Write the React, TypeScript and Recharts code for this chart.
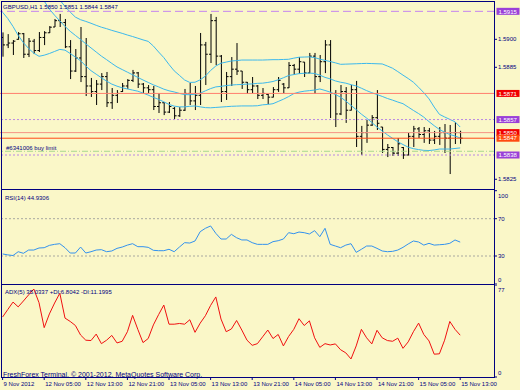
import React from "react";
import { ComposedChart, Bar, Line, XAxis, YAxis, ReferenceLine } from "recharts";

const FONT = "'Liberation Sans', Arial, sans-serif";
const NAVY = "#000080";
const BG = "#faf7c8";
const PAD_RIGHT = 32.2;

// GBPUSD H1, 9 Nov 21:00 .. 15 Nov 13:00
const opens = [
  1.5901, 1.5897, 1.5898, 1.59, 1.5903, 1.5892, 1.5899, 1.5894, 1.5901, 1.59035,
  1.59066, 1.591, 1.5909, 1.5896, 1.5883, 1.589, 1.588, 1.5875, 1.5872, 1.5876,
  1.588, 1.5866, 1.587, 1.5872, 1.5875, 1.5878, 1.5882, 1.5876, 1.5874, 1.5873,
  1.5864, 1.5866, 1.5861, 1.5863, 1.5859, 1.5862, 1.5871, 1.5867, 1.587, 1.5897,
  1.5892, 1.591, 1.5891, 1.5872, 1.588, 1.5884, 1.5883, 1.5877, 1.5873, 1.5875,
  1.587, 1.58705, 1.5869, 1.5873, 1.5876, 1.5874, 1.5886, 1.5884, 1.58878, 1.5882,
  1.5891, 1.588, 1.5888, 1.5897, 1.5871, 1.586, 1.5872, 1.5862, 1.5873, 1.5848,
  1.585, 1.5854, 1.5858, 1.5853, 1.5841, 1.5842, 1.5839, 1.5842, 1.5838, 1.5848,
  1.5852, 1.5849, 1.5851, 1.5846, 1.5848, 1.585, 1.5847, 1.585, 1.585,
];
const highs = [
  1.59037, 1.59028, 1.58996, 1.59039, 1.59034, 1.59007, 1.59002, 1.59039, 1.59044, 1.59071,
  1.59109, 1.59136, 1.59109, 1.58996, 1.58948, 1.59066, 1.59007, 1.58793, 1.58782, 1.58819,
  1.58825, 1.58739, 1.58728, 1.58766, 1.58787, 1.58836, 1.58825, 1.58766, 1.58755, 1.5875,
  1.58712, 1.58664, 1.58664, 1.58637, 1.58637, 1.58734, 1.58766, 1.5875, 1.59034, 1.58986,
  1.59136, 1.5912, 1.58916, 1.58825, 1.58905, 1.5898, 1.5883, 1.58771, 1.58798, 1.58755,
  1.58739, 1.58707, 1.58744, 1.58798, 1.58766, 1.58878, 1.58868, 1.58905, 1.58878, 1.58927,
  1.58927, 1.58916, 1.58996, 1.58996, 1.58728, 1.58755, 1.58744, 1.58755, 1.58777, 1.58536,
  1.58568, 1.58594, 1.58728, 1.5853, 1.58439, 1.58423, 1.58471, 1.58423, 1.58498, 1.58536,
  1.5853, 1.5853, 1.58525, 1.58509, 1.5853, 1.58546, 1.58541, 1.58557, 1.5851,
];
const lows = [
  1.58907, 1.58953, 1.58916, 1.58998, 1.589, 1.58905, 1.58921, 1.58932, 1.58969, 1.59034,
  1.59066, 1.59066, 1.58953, 1.58787, 1.58825, 1.58771, 1.58696, 1.58691, 1.58648, 1.58728,
  1.58637, 1.58627, 1.58659, 1.58718, 1.58734, 1.58771, 1.58739, 1.58712, 1.58712, 1.58621,
  1.58605, 1.58594, 1.58605, 1.58573, 1.58584, 1.58616, 1.58648, 1.58621, 1.58648, 1.58755,
  1.58873, 1.58862, 1.58664, 1.58675, 1.5875, 1.58809, 1.58734, 1.58707, 1.58712, 1.5868,
  1.5868, 1.58653, 1.58689, 1.58718, 1.58712, 1.58739, 1.58809, 1.58814, 1.58798, 1.58819,
  1.58707, 1.58771, 1.58819, 1.58578, 1.5853, 1.58594, 1.58552, 1.58619, 1.58423, 1.5838,
  1.58445, 1.58536, 1.58514, 1.58391, 1.58369, 1.58375, 1.58375, 1.58359, 1.58378, 1.58423,
  1.58471, 1.58445, 1.58439, 1.58439, 1.58434, 1.58391, 1.58278, 1.58439, 1.5844,
];
const closes = [
  1.5897, 1.5898, 1.5899, 1.5903, 1.5892, 1.5899, 1.5894, 1.5901, 1.59035, 1.59065,
  1.591, 1.5909, 1.5896, 1.5883, 1.589, 1.588, 1.5875, 1.5872, 1.5876, 1.588,
  1.5866, 1.587, 1.5871, 1.5875, 1.5878, 1.5882, 1.5876, 1.5874, 1.5873, 1.5864,
  1.5866, 1.5861, 1.5864, 1.5859, 1.5862, 1.5871, 1.5867, 1.587, 1.5897, 1.5892,
  1.591, 1.5891, 1.5872, 1.588, 1.5884, 1.5883, 1.5877, 1.5873, 1.5875, 1.587,
  1.5871, 1.5869, 1.5873, 1.5878, 1.5874, 1.5886, 1.5884, 1.5888, 1.5882, 1.5891,
  1.588, 1.5888, 1.5897, 1.5871, 1.586, 1.5872, 1.5862, 1.5873, 1.5848, 1.585,
  1.5854, 1.5858, 1.5855, 1.5841, 1.5842, 1.5839, 1.5844, 1.5838, 1.5848, 1.5852,
  1.5849, 1.5851, 1.5846, 1.5848, 1.585, 1.5847, 1.585, 1.585, 1.5847,
];

// bollinger bands
const bbUpper = [
  1.59671, 1.59628, 1.59585, 1.59543, 1.595, 1.59457, 1.59414, 1.59371, 1.59328, 1.59285,
  1.59248, 1.59211, 1.59176, 1.59146, 1.59119, 1.59105, 1.59096, 1.59086, 1.59075, 1.59065,
  1.59057, 1.59048, 1.5904, 1.59032, 1.59023, 1.59015, 1.59006, 1.58997, 1.58989, 1.58964,
  1.58932, 1.58902, 1.58865, 1.58831, 1.58807, 1.58782, 1.58769, 1.5877, 1.58783, 1.58803,
  1.58833, 1.58857, 1.58872, 1.58878, 1.58884, 1.58886, 1.58889, 1.58889, 1.58889, 1.58889,
  1.58889, 1.5889, 1.58891, 1.58891, 1.58892, 1.58893, 1.58899, 1.58904, 1.58905, 1.58906,
  1.58902, 1.58894, 1.58887, 1.58881, 1.58874, 1.58866, 1.58867, 1.58868, 1.58869, 1.5887,
  1.58871, 1.5887, 1.58869, 1.58868, 1.58857, 1.58845, 1.58827, 1.58808, 1.5879, 1.5877,
  1.58743, 1.58714, 1.58681, 1.58637, 1.58598, 1.58584, 1.58571, 1.58558, 1.5853,
];
const bbMiddle = [
  1.59452, 1.59414, 1.59382, 1.5935, 1.59318, 1.59291, 1.59264, 1.59237, 1.59205, 1.59162,
  1.59129, 1.59099, 1.59069, 1.59043, 1.59021, 1.58999, 1.58976, 1.58954, 1.58932, 1.5891,
  1.58891, 1.58871, 1.58852, 1.58838, 1.58824, 1.5881, 1.58796, 1.58782, 1.58769, 1.58756,
  1.58745, 1.58733, 1.58724, 1.58718, 1.5871, 1.58704, 1.58703, 1.58706, 1.58711, 1.58724,
  1.58736, 1.58745, 1.58748, 1.58752, 1.58755, 1.58757, 1.58758, 1.5876, 1.58761, 1.58764,
  1.58765, 1.58769, 1.58774, 1.58783, 1.58794, 1.58806, 1.58811, 1.58816, 1.58818, 1.58819,
  1.58817, 1.58808, 1.58796, 1.58788, 1.58777, 1.5877, 1.58765, 1.58757, 1.5875, 1.58738,
  1.58725, 1.58714, 1.58704, 1.58694, 1.58683, 1.58674, 1.58664, 1.58655, 1.58637, 1.58619,
  1.58602, 1.58583, 1.58559, 1.58537, 1.58517, 1.58502, 1.5849, 1.58482, 1.58471,
];
const bbLower = [
  1.59145, 1.59111, 1.59069, 1.59021, 1.58982, 1.58951, 1.58926, 1.58909, 1.58915, 1.58924,
  1.58935, 1.58946, 1.58942, 1.58924, 1.58905, 1.58885, 1.58857, 1.58832, 1.58813, 1.58794,
  1.58776, 1.5876, 1.58749, 1.5874, 1.58734, 1.58728, 1.58722, 1.58712, 1.58701, 1.58689,
  1.58678, 1.58665, 1.58651, 1.58642, 1.58638, 1.58638, 1.58641, 1.58643, 1.58638, 1.58634,
  1.58633, 1.58635, 1.58637, 1.58639, 1.58641, 1.58642, 1.58643, 1.58643, 1.58643, 1.58644,
  1.58649, 1.58651, 1.58655, 1.58667, 1.58679, 1.58693, 1.58709, 1.58717, 1.58722, 1.58725,
  1.58728, 1.58734, 1.58726, 1.58717, 1.58704, 1.5869, 1.58669, 1.58646, 1.58623, 1.58599,
  1.58578, 1.58554, 1.5853, 1.58509, 1.58488, 1.58469, 1.58451, 1.58436, 1.58422, 1.58414,
  1.58409, 1.58405, 1.58404, 1.58407, 1.58412, 1.58412, 1.58412, 1.58415, 1.58418,
];

const rsi14 = [
  32.2, 31.2, 30.5, 34.6, 32.9, 36.4, 36.4, 38.6, 38.9, 41.4,
  42.5, 43.2, 38.9, 33.2, 33.2, 39.6, 33.2, 34.6, 36.4, 36.8,
  34.6, 35.4, 38.2, 39.6, 41.7, 43.2, 40.0, 40.0, 39.3, 36.1,
  35.7, 35.7, 37.2, 34.6, 39.6, 44.3, 43.9, 46.1, 56.1, 59.7,
  62.2, 54.3, 48.2, 48.2, 53.2, 49.6, 47.2, 47.2, 44.3, 42.5,
  42.5, 42.5, 45.4, 46.4, 48.2, 55.0, 53.9, 55.7, 55.0, 53.6,
  57.2, 50.7, 59.7, 42.5, 40.7, 38.9, 41.7, 43.2, 33.9, 37.2,
  40.7, 40.7, 38.2, 35.4, 34.6, 35.0, 36.4, 39.3, 42.9, 46.1,
  45.0, 41.7, 43.6, 41.7, 42.1, 42.5, 43.6, 47.2, 44.9,
];
const adx5 = [
  50.2, 56.5, 62.7, 58.7, 63.6, 68.7, 73.6, 62.2, 41.3, 52.8,
  61.9, 70.1, 49.3, 46.5, 43.1, 35.1, 30.8, 30.5, 35.9, 27.9,
  30.8, 34.8, 28.5, 29.9, 37.9, 51.6, 39.9, 28.8, 32.2, 43.6,
  52.2, 60.2, 44.2, 44.2, 44.8, 44.2, 47.9, 37.4, 45.1, 51.3,
  59.9, 67.0, 48.5, 37.9, 40.2, 47.3, 39.3, 30.8, 26.5, 27.9,
  33.6, 39.3, 32.2, 35.6, 26.0, 33.9, 39.9, 48.8, 43.1, 47.0,
  32.8, 24.8, 27.9, 26.8, 27.7, 22.8, 20.2, 15.1, 26.0, 39.9,
  32.8, 27.7, 39.1, 32.8, 30.5, 29.9, 32.5, 24.0, 29.4, 37.9,
  45.1, 35.6, 30.2, 19.1, 19.4, 30.8, 46.5, 39.9, 35.0,
];

// scale labels that are not covered by a price tag
const priceTicks = [1.5825, 1.5885, 1.59];
const timeTicks = [0, 8, 16, 24, 32, 40, 48, 56, 64, 72, 80, 88];
const timeLabels = [
  "9 Nov 2012", "12 Nov 05:00", "12 Nov 13:00", "12 Nov 21:00", "13 Nov 05:00", "13 Nov 13:00",
  "13 Nov 21:00", "14 Nov 05:00", "14 Nov 13:00", "14 Nov 21:00", "15 Nov 05:00", "15 Nov 13:00",
];

// horizontal lines on the price pane
const levels = [
  { y: 1.5915, stroke: "#c484f0", dash: "8 4", tag: "#9a40d8" },
  { y: 1.5871, stroke: "#ff7f6e", dash: undefined, tag: "#f00000" },
  { y: 1.5857, stroke: "#b888e4", dash: "2 2", tag: "#9a40d8" },
  { y: 1.585, stroke: "#f59484", dash: undefined, tag: "#f00000" },
  { y: 1.5847, stroke: "#ff4a18", dash: undefined, tag: "#ff4a10" },
  { y: 1.584, stroke: "#a8d890", dash: "6 2 1 2", tag: null },
  { y: 1.5838, stroke: "#b888e4", dash: "2 2", tag: "#9a40d8" },
];

const rows = opens.map((o, i) => ({
  i,
  open: o,
  high: highs[i],
  low: lows[i],
  close: closes[i],
  range: [lows[i], highs[i]],
  up: bbUpper[i],
  mid: bbMiddle[i],
  lo: bbLower[i],
  rsi: rsi14[i],
  adx: adx5[i],
}));

const axisTick = { fontSize: 6, fill: NAVY, fontFamily: FONT };

function OhlcBar(props: any) {
  const { x, y, width, height, payload } = props;
  const top = Math.min(y, y + height);
  const bot = Math.max(y, y + height);
  const span = payload.high - payload.low || 1;
  const yAt = (v: number) => top + ((payload.high - v) / span) * (bot - top);
  const cx = x + width / 2;
  return (
    <g stroke="#000" strokeWidth={1}>
      <line x1={cx} x2={cx} y1={top} y2={bot} />
      <line x1={cx - 2} x2={cx} y1={yAt(payload.open)} y2={yAt(payload.open)} />
      <line x1={cx} x2={cx + 2} y1={yAt(payload.close)} y2={yAt(payload.close)} />
    </g>
  );
}

function PriceTag(props: any) {
  const { viewBox, text, fill } = props;
  const x = viewBox.x + viewBox.width + 1.5;
  const y = viewBox.y;
  return (
    <g>
      <rect x={x} y={y - 3.5} width={23} height={7} fill={fill} />
      <text x={x + 2} y={y + 2.2} fill="#fff" fontSize={6} fontFamily={FONT}>
        {text}
      </text>
    </g>
  );
}

// keeps the top and bottom scale labels inside the pane
function EdgeTick(props: any) {
  const { x, y, payload, top, bottom } = props;
  const v = payload.value;
  const dy = v === top ? 5 : v === bottom ? -4 : 0;
  return (
    <text x={x} y={y + dy + 2} fontSize={6} fill={NAVY} fontFamily={FONT}>
      {v}
    </text>
  );
}

function TimeTick(props: any) {
  const { x, y, payload } = props;
  return (
    <text x={x + 1} y={y + 4} fontSize={6} fill={NAVY} fontFamily={FONT}>
      {timeLabels[timeTicks.indexOf(payload.value)]}
    </text>
  );
}

const hiddenX = <XAxis dataKey="i" scale="band" hide padding={{ left: 0, right: PAD_RIGHT }} />;

export default function App() {
  return (
    <div style={{ position: "fixed", left: 0, top: 0, width: 520, height: 390, background: BG, fontFamily: FONT }}>
      <div style={{ position: "absolute", left: 0, top: 0 }}>
        <ComposedChart width={520} height={190} data={rows} margin={{ top: 2, right: 0, left: 0, bottom: 1.4 }} barSize={4}>
          {hiddenX}
          <YAxis
            orientation="right"
            width={25}
            domain={[1.582, 1.592]}
            allowDataOverflow
            ticks={priceTicks}
            interval={0}
            tickFormatter={(v: number) => v.toFixed(4)}
            tick={axisTick}
            tickSize={2}
            tickMargin={1}
            axisLine={false}
            tickLine={{ stroke: NAVY }}
          />
          <Bar dataKey="range" shape={(p: any) => <OhlcBar {...p} />} isAnimationActive={false} />
          <Line dataKey="up" stroke="#3cb8ec" strokeWidth={1} dot={false} isAnimationActive={false} />
          <Line dataKey="mid" stroke="#3cb8ec" strokeWidth={1} dot={false} isAnimationActive={false} />
          <Line dataKey="lo" stroke="#3cb8ec" strokeWidth={1} dot={false} isAnimationActive={false} />
          {levels.map((l) => (
            <ReferenceLine
              key={l.y}
              y={l.y}
              stroke={l.stroke}
              strokeDasharray={l.dash}
              strokeWidth={1}
              label={l.tag ? (p: any) => <PriceTag {...p} text={l.y.toFixed(4)} fill={l.tag} /> : undefined}
            />
          ))}
        </ComposedChart>
      </div>

      <div style={{ position: "absolute", left: 0, top: 190 }}>
        <ComposedChart width={520} height={94} data={rows} margin={{ top: 0.7, right: 0, left: 0, bottom: 0 }}>
          {hiddenX}
          <YAxis
            orientation="right"
            width={25}
            domain={[0, 100]}
            ticks={[0, 30, 70, 100]}
            interval={0}
            tick={(p: any) => <EdgeTick {...p} top={100} bottom={0} />}
            tickSize={2}
            tickMargin={1}
            axisLine={false}
            tickLine={{ stroke: NAVY }}
          />
          <ReferenceLine y={70} stroke="#a8a8a0" strokeDasharray="2 2" />
          <ReferenceLine y={30} stroke="#a8a8a0" strokeDasharray="2 2" />
          <Line dataKey="rsi" stroke="#3392ee" strokeWidth={1} dot={false} isAnimationActive={false} />
        </ComposedChart>
      </div>

      <div style={{ position: "absolute", left: 0, top: 284 }}>
        <ComposedChart width={520} height={106} data={rows} margin={{ top: 1, right: 0, left: 0, bottom: 0 }}>
          <XAxis
            dataKey="i"
            scale="band"
            padding={{ left: 0, right: PAD_RIGHT }}
            ticks={timeTicks}
            interval={0}
            height={13}
            tick={(p: any) => <TimeTick {...p} />}
            tickSize={3}
            tickMargin={2}
            axisLine={false}
            tickLine={{ stroke: NAVY }}
          />
          <YAxis
            orientation="right"
            width={25}
            domain={[0, 77]}
            ticks={[0, 77]}
            interval={0}
            tick={(p: any) => <EdgeTick {...p} top={77} bottom={0} />}
            tickSize={2}
            tickMargin={1}
            axisLine={false}
            tickLine={{ stroke: NAVY }}
          />
          <Line dataKey="adx" stroke="#f01010" strokeWidth={1} dot={false} isAnimationActive={false} />
        </ComposedChart>
      </div>

      <svg width={520} height={390} style={{ position: "absolute", left: 0, top: 0, pointerEvents: "none" }}>
        <g stroke={NAVY} strokeWidth={1} shapeRendering="crispEdges">
          <line x1={1} x2={495} y1={1.5} y2={1.5} />
          <line x1={1.5} x2={1.5} y1={1} y2={378} />
          <line x1={494.5} x2={494.5} y1={1} y2={378} />
          <line x1={1} x2={495} y1={189.5} y2={189.5} />
          <line x1={1} x2={495} y1={284.5} y2={284.5} />
          <line x1={1} x2={495} y1={377.5} y2={377.5} />
        </g>
        <g fill={NAVY} fontSize={6} fontFamily={FONT}>
          <text x={3} y={8.5}>GBPUSD,H1  1.5850 1.5851 1.5844 1.5847</text>
          <text x={6} y={149.5}>#6341006 buy limit</text>
          <text x={5} y={200}>RSI(14) 44.9306</text>
          <text x={5} y={294}>ADX(5) 35.0337 +DI:6.8042 -DI:11.1995</text>
        </g>
        <text x={3} y={376.5} fill={NAVY} fontSize={7} fontFamily={FONT}>
          FreshForex Terminal, © 2001-2012, MetaQuotes Software Corp.
        </text>
      </svg>
    </div>
  );
}
